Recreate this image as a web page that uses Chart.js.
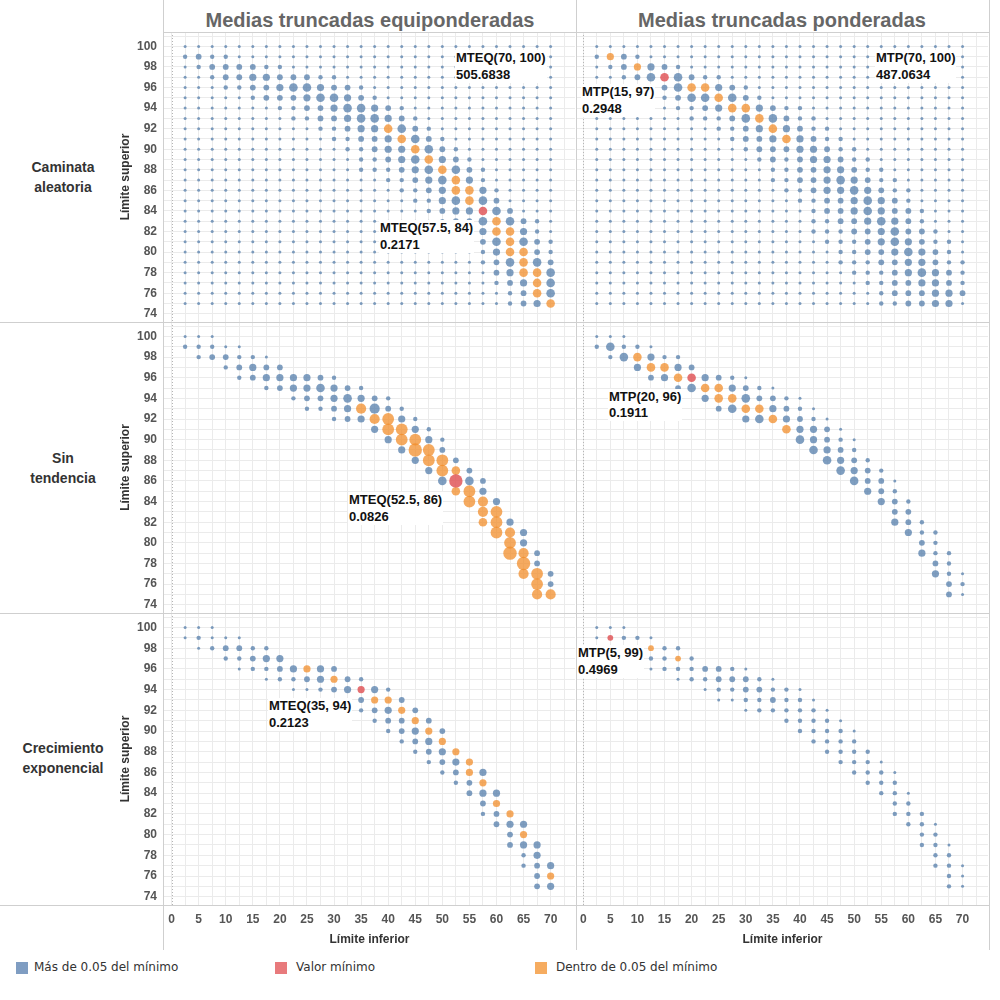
<!DOCTYPE html>
<html><head><meta charset="utf-8">
<script src="https://cdn.jsdelivr.net/npm/chart.js@4.4.1/dist/chart.umd.min.js"></script>
<style>
body{margin:0;background:#fff;width:1000px;height:1000px;position:relative;overflow:hidden;font-family:"Liberation Sans",Arial,sans-serif;}
canvas{position:absolute}
.t{position:absolute;white-space:nowrap}
.hdr{font-size:20px;color:#666;font-weight:bold;transform:translateX(-50%);}
.row{font-size:14px;color:#333;font-weight:bold;text-align:center;transform:translate(-50%,-50%);line-height:20px}
.ann{font-size:13px;font-weight:bold;color:#111;z-index:5;background:#fff;padding:0 1px}
.ann div{height:16.3px;line-height:16.3px}
.ln{position:absolute;background:#cfcfcf;z-index:4}
.leg{font-size:12px;color:#333;font-family:"DejaVu Sans",sans-serif}
.sw{position:absolute;width:12px;height:12px}
</style></head><body>
<script>
// ---------- data ----------
const xValues = [2.5,5,7.5,10,12.5,15,17.5,20,22.5,25,27.5,30,32.5,35,37.5,40,42.5,45,47.5,50,52.5,55,57.5,60,62.5,65,67.5,70];
const yValues = [100,99,98,97,96,95,94,93,92,91,90,89,88,87,86,85,84,83,82,81,80,79,78,77,76,75];
const colHeaders = ["Medias truncadas equiponderadas","Medias truncadas ponderadas"];
const rowHeaders = [["Caminata","aleatoria"],["Sin","tendencia"],["Crecimiento","exponencial"]];
const legendLabels = ["Más de 0.05 del mínimo","Valor mínimo","Dentro de 0.05 del mínimo"];
// Each row: "startColumn:codes"  digits = blue size level, a-i = orange size level, A-I = red size level
const caminataEq = ["0:1","0:2322","0:12333322","0:112334433322","3:22334554332","5:2333455432","7:2233455432","8:2233455432",
 "10:22344e532","11:22334e532","12:22344e532","13:22345e432","13:222345e532","15:22345e42","16:2234ee42","17:2245e53",
 "18:2344E53","19:2335e5321","21:24ee421","21:235e532","22:24ee32","22:235e53","23:34ee5","23:234e5","24:23e5","24:234e"];
const caminataPo = ["0:1","0:2d32","0:123d432","0:11235E5322","0:1112235ee432","5:2355e532","6:2234ee4322","7:22235e5322",
 "9:2234e4322","10:2334e4322","11:233344322","12:232344322","13:223344322","13:2233454322","14:2234454322","15:223345432",
 "16:233454332","16:223345432","16:2223345332","17:2223454322","18:223345432","18:2223344322","19:222345432","20:22334432","21:2333443","21:2233441"];
const sinTendEq = ["0:111","0:22211","1:233221","3:23433","4:23444432","6:23445432","8:23345432","9:2234f632",
 "11:234fg42","14:4gg42","15:4gg42","16:4hg3","17:4gg3","18:4ge3","19:5H53","20:eg4",
 "21:gf4","22:fg","22:eg4","23:gf4","24:g4","24:hf3","25:h3","25:fg3","26:g3","26:ff"];
const sinTendPo = ["0:111","0:25221","1:25e422","3:4ee43","4:34eE4321","6:35ee4321","8:4ee53321","9:35ee4321",
 "11:45e4321","14:e4431","15:54321","16:5432","17:5432","18:5432","19:5331","20:432",
 "21:432","22:33","22:432","23:422","24:32","24:422","25:32","25:421","26:32","26:31"];
const crecEq = ["0:111","0:12111","1:123322","3:22344","4:12234d43","6:12234d32","8:11234D42","13:3dd3",
 "13:234d3","14:233d3","15:234d3","16:234d","17:234d","18:234d","19:23d4","20:23d",
 "21:344","22:3d","22:23d","23:344","24:3d","24:344","25:24","25:234","26:3d","26:34"];
const crecPo = ["0:111","0:1C221","3:cc22","3:222c2","4:12223321","6:12233321","8:12233221","9:11223221",
 "11:1222221","14:22221","15:22221","16:2222","17:2222","18:2221","19:2221","20:222",
 "21:221","22:22","22:222","23:221","24:22","24:221","25:22","25:221","26:21","26:21"];
const annotations = [
 ["MTEQ(70, 100)","505.6838",455,58.5],["MTEQ(57.5, 84)","0.2171",379,228.5],
 ["MTP(15, 97)","0.2948",581,92.5],["MTP(70, 100)","487.0634",875,58.5],
 ["MTEQ(52.5, 86)","0.0826",348,500.5],["MTP(20, 96)","0.1911",608,397],
 ["MTEQ(35, 94)","0.2123",268,706.5],["MTP(5, 99)","0.4969",577,653.5]];

// ---------- styles ----------
const BLUE='rgba(78,121,167,0.72)', ORANGE='rgba(242,142,43,0.75)', RED='rgba(225,87,89,0.85)';
const LEGCOL=['#7f9dc2','#e87a7c','#f6ac60'];
const radius=[0,1.5,2.2,2.9,3.6,4.3,5.1,5.9,6.7,7.5];
const GRID='#ebebeb';

function parsePanel(rows, dense){
  const pts={blue:[],orange:[],red:[]};
  rows.forEach((row,ri)=>{
    const parts=row.split(':'); const start=+parts[0]; const codes=parts[1];
    for(let c=0;c<xValues.length;c++){
      let ch;
      if(c<start||c-start>=codes.length) ch=dense?'1':'.'; else ch=codes[c-start];
      if(ch==='.') continue;
      let cat='blue',lvl;
      if(ch>='a'&&ch<='i'){cat='orange';lvl=ch.charCodeAt(0)-96;}
      else if(ch>='A'&&ch<='I'){cat='red';lvl=ch.charCodeAt(0)-64;}
      else lvl=+ch;
      pts[cat].push({x:xValues[c],y:yValues[ri],r:radius[lvl]});
    }
  });
  return pts;
}
const xGrid=[];for(let v=0;v<=72.5;v+=2.5)xGrid.push(v);
const yGrid=[];for(let v=74;v<=101;v++)yGrid.push(v);
const zeroLine={id:'zero',beforeDatasetsDraw(ch){const s=ch.scales.x,a=ch.chartArea,c=ch.ctx;const px=Math.round(s.getPixelForValue(0))+0.5;
  c.save();c.strokeStyle='#b5b5b5';c.lineWidth=1;c.setLineDash([1,2]);c.beginPath();c.moveTo(px,a.top);c.lineTo(px,a.bottom);c.stroke();c.restore();}};
const tickFont={family:'"Liberation Sans",Arial,sans-serif',size:12,weight:'bold'};
function noPad(s){s.paddingTop=0;s.paddingBottom=0;s.paddingLeft=0;s.paddingRight=0;}

function makeChart(rows,dense,geo){
  const cv=document.createElement('canvas');
  cv.width=geo.w;cv.height=geo.h;cv.style.left=geo.l+'px';cv.style.top=geo.t+'px';
  document.body.appendChild(cv);
  const p=parsePanel(rows,dense);
  new Chart(cv,{type:'bubble',
    data:{datasets:[
      {data:p.blue,backgroundColor:BLUE,borderWidth:0,hoverBorderWidth:0,order:3},
      {data:p.orange,backgroundColor:ORANGE,borderWidth:0,hoverBorderWidth:0,order:2},
      {data:p.red,backgroundColor:RED,borderWidth:0,hoverBorderWidth:0,order:1}]},
    options:{animation:false,responsive:false,events:[],layout:{padding:0,autoPadding:false},
      plugins:{legend:{display:false},tooltip:{enabled:false}},
      scales:{
        x:{type:'linear',min:geo.xmin,max:geo.xmax,
          afterBuildTicks:s=>{s.ticks=xGrid.map(v=>({value:v}));},
          afterFit:s=>{s.height=geo.showX?45:0;noPad(s);},
          grid:{color:GRID,drawTicks:false},border:{display:false},
          ticks:{display:geo.showX,autoSkip:false,maxRotation:0,padding:7,color:'#555',font:tickFont,callback:v=>(v%5===0?String(v):'')},
          title:{display:geo.showX,text:'Límite inferior',color:'#333',font:tickFont,padding:{top:0,bottom:3}}},
        y:{type:'linear',min:73.2,max:101.4,
          afterBuildTicks:s=>{s.ticks=yGrid.map(v=>({value:v}));},
          afterFit:s=>{s.width=geo.showY?54:0;noPad(s);},
          grid:{color:GRID,drawTicks:false},border:{display:false},
          ticks:{display:geo.showY,autoSkip:false,padding:7,color:'#555',font:tickFont,callback:v=>(v%2===0&&v<=100?String(v):'')},
          title:{display:geo.showY,text:'Límite superior',color:'#333',font:tickFont,padding:{top:8,bottom:0}}}
      }},
    plugins:[zeroLine]});
}
const rowsGeo=[{t:32,h:290},{t:322,h:291},{t:613,h:337}];
const panels=[[caminataEq,caminataPo,true],[sinTendEq,sinTendPo,false],[crecEq,crecPo,false]];
panels.forEach((pp,ri)=>{
  const g=rowsGeo[ri];const bottom=ri===2;
  makeChart(pp[0],pp[2],{l:110,t:g.t,w:465,h:g.h,xmin:-1.4,xmax:74.5,showY:true,showX:bottom});
  makeChart(pp[1],pp[2],{l:577,t:g.t,w:411,h:g.h,xmin:-1.15,xmax:74.7,showY:false,showX:bottom});
});

// ---------- text & frame ----------
function div(cls,html,style){const d=document.createElement('div');d.className=cls;d.innerHTML=html;Object.assign(d.style,style);document.body.appendChild(d);return d;}
div('t hdr',colHeaders[0],{left:'370px',top:'9px'});
div('t hdr',colHeaders[1],{left:'782px',top:'9px'});
[177,468,758].forEach((y,i)=>div('t row',rowHeaders[i].join('<br>'),{left:'63px',top:y+'px'}));
annotations.forEach(a=>div('t ann','<div>'+a[0]+'</div><div>'+a[1]+'</div>',{left:a[2]+'px',top:(a[3]-8.15)+'px'}));
// frame lines
div('ln','',{left:'163px',top:'32px',width:'827px',height:'1px'});
div('ln','',{left:'0px',top:'322px',width:'990px',height:'1px'});
div('ln','',{left:'0px',top:'613px',width:'990px',height:'1px'});
div('ln','',{left:'0px',top:'905px',width:'990px',height:'1px'});
div('ln','',{left:'163px',top:'0px',width:'1px',height:'950px'});
div('ln','',{left:'576px',top:'0px',width:'1px',height:'950px'});
div('ln','',{left:'989px',top:'0px',width:'1px',height:'950px'});
// legend
const legX=[16,275,535], legTX=[34,296,556];
legendLabels.forEach((l,i)=>{div('sw','',{left:legX[i]+'px',top:'962px',background:LEGCOL[i]});
  div('t leg',l,{left:legTX[i]+'px',top:'960px'});});
</script>
</body></html>
